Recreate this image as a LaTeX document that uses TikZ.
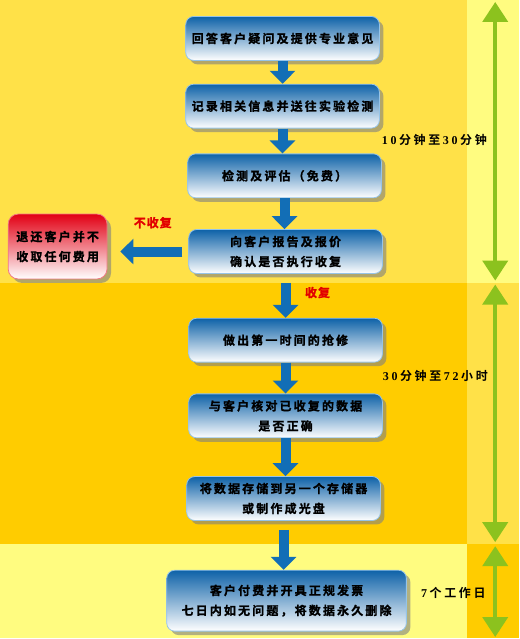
\documentclass[tikz,border=0pt]{standalone}
\usepackage{fontspec}
\setmainfont{Liberation Serif}
\newfontfamily\cjkb[LetterSpace=18, FakeBold=1.2]{Noto Sans CJK SC Bold}
\newfontfamily\cjkl[LetterSpace=8, FakeBold=1.2]{Noto Sans CJK SC Bold}
\newfontfamily\cjkt[LetterSpace=22]{Noto Sans CJK SC Bold}
\newfontfamily\digitfont[LetterSpace=22]{Liberation Serif}
\usetikzlibrary{positioning, arrows.meta, shadows}
\definecolor{bandA}{RGB}{255,225,72}
\definecolor{bandB}{RGB}{255,204,0}
\definecolor{bandC}{RGB}{255,252,128}
\definecolor{boxtop}{RGB}{14,98,168}
\definecolor{boxmid}{RGB}{120,176,222}
\definecolor{boxline}{RGB}{150,196,232}
\definecolor{refundtop}{RGB}{226,0,20}
\definecolor{refundmid}{RGB}{236,90,110}
\definecolor{refundline}{RGB}{240,120,130}
\definecolor{flowblue}{RGB}{18,110,182}
\definecolor{spangreen}{RGB}{140,194,30}
\definecolor{tagred}{RGB}{226,0,0}
\newcommand\dg[1]{{\digitfont\bfseries#1}\kern2.6pt}
\newcommand\mdg[1]{\kern2.6pt\dg{#1}}

\begin{document}
\begin{tikzpicture}[x=1pt, y=1pt, node distance=24pt and 30pt,
        stepbox/.style={rectangle, draw=boxline, line width=0.8pt, rounded corners=8pt, top color=boxtop, middle color=boxmid, bottom color=white, minimum width=194pt, minimum height=44pt, align=center, font=\cjkb\fontsize{12}{20}\selectfont, drop shadow={shadow xshift=4pt, shadow yshift=-4pt, opacity=0.6}},
        refundbox/.style={stepbox, draw=refundline, rounded corners=10pt, top color=refundtop, middle color=refundmid, bottom color=white, minimum width=99pt, minimum height=65pt},
        flow/.style={draw=flowblue, line width=10pt, -{Triangle[width=25pt, length=13pt]}},
        span/.style={draw=spangreen, line width=4pt, {Triangle[width=25pt, length=20pt]}-{Triangle[width=25pt, length=20pt]}},
        tag/.style={text=tagred, font=\cjkl\fontsize{12}{12}\selectfont},
        timelbl/.style={font=\cjkt\fontsize{12}{12}\selectfont}]
        \fill[bandA] (0,0) rectangle (468,-283);
        \fill[bandC] (468,0) rectangle (520,-283);
        \fill[bandB] (0,-283) rectangle (468,-545);
        \fill[bandA] (468,-283) rectangle (520,-545);
        \fill[bandC] (0,-545) rectangle (468,-639);
        \fill[bandB] (468,-545) rectangle (520,-639);

        \node[stepbox] (q1) at (283,-38.5) {回答客户疑问及提供专业意见};
        \node[stepbox, below=23pt of q1] (q2) {记录相关信息并送往实验检测};
        \node[stepbox, below=25pt of q2, xshift=2pt] (q3) {检测及评估（免费）};
        \node[stepbox, below=31pt of q3, xshift=1pt] (q4) {向客户报告及报价\\确认是否执行收复};
        \node[refundbox, left=81pt of q4, yshift=5pt] (refund) {退还客户并不\\收取任何费用};
        \node[stepbox, below=44pt of q4] (q5) {做出第一时间的抢修};
        \node[stepbox, below=31pt of q5] (q6) {与客户核对已收复的数据\\是否正确};
        \node[stepbox, below=38pt of q6, xshift=-2pt] (q7) {将数据存储到另一个存储器\\或制作成光盘};
        \node[stepbox, below=49pt of q7, xshift=3pt, minimum width=240pt, minimum height=61pt] (q8) {客户付费并开具正规发票\\七日内如无问题，将数据永久删除};

        \node[tag] (nolbl) at (153,-223) {不收复};
        \node[tag] (yeslbl) at (318,-293) {收复};
        \node[timelbl] (t1lbl) at (435,-140) {\dg{10}分钟至\mdg{30}分钟};
        \node[timelbl] (t2lbl) at (436,-377) {\dg{30}分钟至\mdg{72}小时};
        \node[timelbl] (t3lbl) at (454,-594) {\dg{7}个工作日};

        \draw[flow] (q1) -- (q2);
        \draw[flow] (q2.south) -- (q2.south |- q3.north);
        \draw[flow] (q3.south) -- (q3.south |- q4.north);
        \draw[flow, shorten <=9pt] (q4) -- (q5);
        \draw[flow] (q5) -- (q6);
        \draw[flow] (q6.south) -- (q6.south |- q7.north);
        \draw[flow, shorten <=9pt] (q7.south) -- (q7.south |- q8.north);
        \draw[flow, shorten <=6pt, shorten >=13pt] (q4.west) -- (q4.west -| refund.east);

        \coordinate (s1top) at (496,-2);
        \coordinate (s1bot) at (496,-281);
        \coordinate (s2top) at (496,-285);
        \coordinate (s2bot) at (496,-543);
        \coordinate (s3top) at (496,-547);
        \coordinate (s3bot) at (496,-638);
        \draw[span] (s1top) -- (s1bot);
        \draw[span] (s2top) -- (s2bot);
        \draw[span] (s3top) -- (s3bot);
    \end{tikzpicture}
\end{document}
